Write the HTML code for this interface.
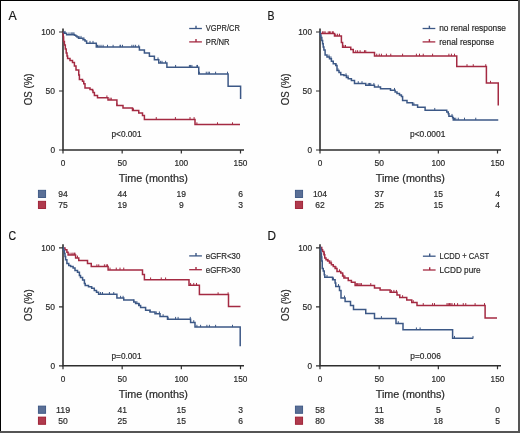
<!DOCTYPE html><html><head><meta charset="utf-8"><style>html,body{margin:0;padding:0;background:#fff;}svg{display:block;will-change:transform;} text{stroke:#2a2a2a;stroke-width:0.2px;}</style></head><body>
<svg width="520" height="433" viewBox="0 0 520 433" font-family='"Liberation Sans", sans-serif'>
<rect x="0" y="0" width="520" height="433" fill="#fefefe"/>
<text x="8.6" y="20.2" font-size="13.2" text-anchor="start" textLength="8.2" lengthAdjust="spacingAndGlyphs" fill="#111" >A</text>
<path d="M63,28.5 V150 H244.0" fill="none" stroke="#2e2e2e" stroke-width="1.6"/>
<path d="M59,150.0 H63 M59,91.0 H63 M59,32.0 H63 M63.0,150 V153.5 M122.16666666666666,150 V153.5 M181.33333333333331,150 V153.5 M240.5,150 V153.5 " fill="none" stroke="#2e2e2e" stroke-width="1.2"/>
<text x="55" y="153.2" font-size="9" text-anchor="end" textLength="4.6" lengthAdjust="spacingAndGlyphs" fill="#2a2a2a" >0</text>
<text x="55" y="94.2" font-size="9" text-anchor="end" textLength="9.4" lengthAdjust="spacingAndGlyphs" fill="#2a2a2a" >50</text>
<text x="55" y="35.2" font-size="9" text-anchor="end" textLength="13.8" lengthAdjust="spacingAndGlyphs" fill="#2a2a2a" >100</text>
<text x="63.0" y="165.8" font-size="9" text-anchor="middle" textLength="4.6" lengthAdjust="spacingAndGlyphs" fill="#2a2a2a" >0</text>
<text x="122.16666666666666" y="165.8" font-size="9" text-anchor="middle" textLength="9.4" lengthAdjust="spacingAndGlyphs" fill="#2a2a2a" >50</text>
<text x="181.33333333333331" y="165.8" font-size="9" text-anchor="middle" textLength="13.8" lengthAdjust="spacingAndGlyphs" fill="#2a2a2a" >100</text>
<text x="240.5" y="165.8" font-size="9" text-anchor="middle" textLength="13.8" lengthAdjust="spacingAndGlyphs" fill="#2a2a2a" >150</text>
<text x="118.7" y="182" font-size="10.6" text-anchor="start" textLength="69.2" lengthAdjust="spacingAndGlyphs" fill="#2a2a2a" >Time (months)</text>
<text transform="translate(31.8,105.2) rotate(-90)" font-size="10.3" textLength="31.7" lengthAdjust="spacingAndGlyphs" fill="#2a2a2a">OS (%)</text>
<path d="M189.2,28.5 H201.89999999999998" stroke="#3c5886" stroke-width="1.3" fill="none"/>
<path d="M196.0,28.5 V25.7" stroke="#3c5886" stroke-width="1.4" fill="none"/>
<text x="205.79999999999998" y="31.4" font-size="9.2" text-anchor="start" textLength="34" lengthAdjust="spacingAndGlyphs" fill="#2a2a2a" >VGPR/CR</text>
<path d="M189.2,41.9 H201.89999999999998" stroke="#a42a42" stroke-width="1.3" fill="none"/>
<path d="M196.0,41.9 V39.1" stroke="#a42a42" stroke-width="1.4" fill="none"/>
<text x="205.79999999999998" y="44.8" font-size="9.2" text-anchor="start" textLength="23.8" lengthAdjust="spacingAndGlyphs" fill="#2a2a2a" >PR/NR</text>
<text x="111.5" y="137.2" font-size="9" text-anchor="start" textLength="30" lengthAdjust="spacingAndGlyphs" fill="#2a2a2a" >p&lt;0.001</text>
<rect x="38.4" y="190.3" width="7.2" height="7.2" fill="#5a6f96" stroke="#3a5582" stroke-width="0.9"/>
<rect x="38.4" y="201.3" width="7.2" height="7.2" fill="#b03a4d" stroke="#9c1c31" stroke-width="0.9"/>
<text x="63.0" y="197" font-size="9.3" text-anchor="middle" textLength="9.5" lengthAdjust="spacingAndGlyphs" fill="#2a2a2a" >94</text>
<text x="63.0" y="208" font-size="9.3" text-anchor="middle" textLength="9.5" lengthAdjust="spacingAndGlyphs" fill="#2a2a2a" >75</text>
<text x="122.16666666666666" y="197" font-size="9.3" text-anchor="middle" textLength="9.5" lengthAdjust="spacingAndGlyphs" fill="#2a2a2a" >44</text>
<text x="122.16666666666666" y="208" font-size="9.3" text-anchor="middle" textLength="9.5" lengthAdjust="spacingAndGlyphs" fill="#2a2a2a" >19</text>
<text x="181.33333333333331" y="197" font-size="9.3" text-anchor="middle" textLength="9.5" lengthAdjust="spacingAndGlyphs" fill="#2a2a2a" >19</text>
<text x="181.33333333333331" y="208" font-size="9.3" text-anchor="middle" textLength="4.75" lengthAdjust="spacingAndGlyphs" fill="#2a2a2a" >9</text>
<text x="240.5" y="197" font-size="9.3" text-anchor="middle" textLength="4.75" lengthAdjust="spacingAndGlyphs" fill="#2a2a2a" >6</text>
<text x="240.5" y="208" font-size="9.3" text-anchor="middle" textLength="4.75" lengthAdjust="spacingAndGlyphs" fill="#2a2a2a" >3</text>
<path d="M63,32 H63.3 V37 H63.6 V41.5 H64.4 V45 H65.3 V49 H66.2 V53 H67 V56 H67.6 V58.5 H70 V60.5 H72.5 V62.5 H74.4 V66 H76 V70 H78.75 V75 H79.4 V79.4 H82.5 V81.25 H83.75 V83.75 H85 V88 H90 V89.4 H92.5 V90.6 H93 V92.5 H94.4 V95.6 H97.5 V97.75 H108 V100 H116.9 V105.6 H123 V108.1 H132.5 V110.6 H138.75 V113.1 H142.5 V115.6 H144.4 V119.4 H195 V124.6 H240" fill="none" stroke="#a42a42" stroke-width="1.5" stroke-linejoin="miter"/>
<path d="M106.9,97.75 V95.45 M110,100 V97.7 M111.25,100 V97.7 M116.9,105.6 V103.3 M133.5,110.6 V108.3 M156.25,119.4 V117.10000000000001 M175.4,119.4 V117.10000000000001 M190,119.4 V117.10000000000001 M194.1,119.4 V117.10000000000001 M196.9,124.6 V122.3 M217.5,124.6 V122.3 M232.5,124.6 V122.3 " fill="none" stroke="#a42a42" stroke-width="1"/>
<path d="M63,32.3 H64.5 V33.2 H66.6 V34.75 H74.5 V35.3 H75.8 V35.9 H77 V37.1 H78.5 V38.2 H83 V39.75 H85 V40.9 H86.6 V43.2 H96.3 V47.1 H139.4 V50 H144.4 V53.1 H149.4 V56.25 H154.4 V59.75 H158.75 V63.1 H166.9 V67.25 H198.75 V74 H228.1 V86.25 H240.6 V99" fill="none" stroke="#3c5886" stroke-width="1.5" stroke-linejoin="miter"/>
<path d="M65,33.2 V30.900000000000002 M69,34.75 V32.45 M71,34.75 V32.45 M72,34.75 V32.45 M73,34.75 V32.45 M74,34.75 V32.45 M79,38.2 V35.900000000000006 M81,38.2 V35.900000000000006 M84,39.75 V37.45 M90,43.2 V40.900000000000006 M93,43.2 V40.900000000000006 M97.5,47.1 V44.800000000000004 M99,47.1 V44.800000000000004 M101,47.1 V44.800000000000004 M103.1,47.1 V44.800000000000004 M107.5,47.1 V44.800000000000004 M113.1,47.1 V44.800000000000004 M120,47.1 V44.800000000000004 M120.6,47.1 V44.800000000000004 M122.5,47.1 V44.800000000000004 M131.9,47.1 V44.800000000000004 M133.75,47.1 V44.800000000000004 M135.6,47.1 V44.800000000000004 M138.75,47.1 V44.800000000000004 M158,59.75 V57.45 M160.6,63.1 V60.800000000000004 M162,63.1 V60.800000000000004 M165.6,63.1 V60.800000000000004 M175.6,67.25 V64.95 M189.4,67.25 V64.95 M190.6,67.25 V64.95 M191.9,67.25 V64.95 M196.9,67.25 V64.95 M197.5,67.25 V64.95 M199.4,74 V71.7 M206.25,74 V71.7 M208.1,74 V71.7 M209.4,74 V71.7 M215.6,74 V71.7 M227.5,74 V71.7 " fill="none" stroke="#3c5886" stroke-width="1"/>
<text x="267.4" y="20.2" font-size="13.2" text-anchor="start" textLength="7.0" lengthAdjust="spacingAndGlyphs" fill="#111" >B</text>
<path d="M320,28.5 V150 H501.0" fill="none" stroke="#2e2e2e" stroke-width="1.6"/>
<path d="M316,150.0 H320 M316,91.0 H320 M316,32.0 H320 M320.0,150 V153.5 M379.1666666666667,150 V153.5 M438.3333333333333,150 V153.5 M497.5,150 V153.5 " fill="none" stroke="#2e2e2e" stroke-width="1.2"/>
<text x="312" y="153.2" font-size="9" text-anchor="end" textLength="4.6" lengthAdjust="spacingAndGlyphs" fill="#2a2a2a" >0</text>
<text x="312" y="94.2" font-size="9" text-anchor="end" textLength="9.4" lengthAdjust="spacingAndGlyphs" fill="#2a2a2a" >50</text>
<text x="312" y="35.2" font-size="9" text-anchor="end" textLength="13.8" lengthAdjust="spacingAndGlyphs" fill="#2a2a2a" >100</text>
<text x="320.0" y="165.8" font-size="9" text-anchor="middle" textLength="4.6" lengthAdjust="spacingAndGlyphs" fill="#2a2a2a" >0</text>
<text x="379.1666666666667" y="165.8" font-size="9" text-anchor="middle" textLength="9.4" lengthAdjust="spacingAndGlyphs" fill="#2a2a2a" >50</text>
<text x="438.3333333333333" y="165.8" font-size="9" text-anchor="middle" textLength="13.8" lengthAdjust="spacingAndGlyphs" fill="#2a2a2a" >100</text>
<text x="497.5" y="165.8" font-size="9" text-anchor="middle" textLength="13.8" lengthAdjust="spacingAndGlyphs" fill="#2a2a2a" >150</text>
<text x="375.7" y="182" font-size="10.6" text-anchor="start" textLength="69.2" lengthAdjust="spacingAndGlyphs" fill="#2a2a2a" >Time (months)</text>
<text transform="translate(288.8,105.2) rotate(-90)" font-size="10.3" textLength="31.7" lengthAdjust="spacingAndGlyphs" fill="#2a2a2a">OS (%)</text>
<path d="M422.6,28.5 H435.3" stroke="#3c5886" stroke-width="1.3" fill="none"/>
<path d="M429.40000000000003,28.5 V25.7" stroke="#3c5886" stroke-width="1.4" fill="none"/>
<text x="439.20000000000005" y="31.4" font-size="9.2" text-anchor="start" textLength="66.8" lengthAdjust="spacingAndGlyphs" fill="#2a2a2a" >no renal response</text>
<path d="M422.6,41.9 H435.3" stroke="#a42a42" stroke-width="1.3" fill="none"/>
<path d="M429.40000000000003,41.9 V39.1" stroke="#a42a42" stroke-width="1.4" fill="none"/>
<text x="439.20000000000005" y="44.8" font-size="9.2" text-anchor="start" textLength="54.9" lengthAdjust="spacingAndGlyphs" fill="#2a2a2a" >renal response</text>
<text x="410" y="137.2" font-size="9" text-anchor="start" textLength="35.4" lengthAdjust="spacingAndGlyphs" fill="#2a2a2a" >p&lt;0.0001</text>
<rect x="295.4" y="190.3" width="7.2" height="7.2" fill="#5a6f96" stroke="#3a5582" stroke-width="0.9"/>
<rect x="295.4" y="201.3" width="7.2" height="7.2" fill="#b03a4d" stroke="#9c1c31" stroke-width="0.9"/>
<text x="320.0" y="197" font-size="9.3" text-anchor="middle" textLength="14.25" lengthAdjust="spacingAndGlyphs" fill="#2a2a2a" >104</text>
<text x="320.0" y="208" font-size="9.3" text-anchor="middle" textLength="9.5" lengthAdjust="spacingAndGlyphs" fill="#2a2a2a" >62</text>
<text x="379.1666666666667" y="197" font-size="9.3" text-anchor="middle" textLength="9.5" lengthAdjust="spacingAndGlyphs" fill="#2a2a2a" >37</text>
<text x="379.1666666666667" y="208" font-size="9.3" text-anchor="middle" textLength="9.5" lengthAdjust="spacingAndGlyphs" fill="#2a2a2a" >25</text>
<text x="438.3333333333333" y="197" font-size="9.3" text-anchor="middle" textLength="9.5" lengthAdjust="spacingAndGlyphs" fill="#2a2a2a" >15</text>
<text x="438.3333333333333" y="208" font-size="9.3" text-anchor="middle" textLength="9.5" lengthAdjust="spacingAndGlyphs" fill="#2a2a2a" >15</text>
<text x="497.5" y="197" font-size="9.3" text-anchor="middle" textLength="4.75" lengthAdjust="spacingAndGlyphs" fill="#2a2a2a" >4</text>
<text x="497.5" y="208" font-size="9.3" text-anchor="middle" textLength="4.75" lengthAdjust="spacingAndGlyphs" fill="#2a2a2a" >4</text>
<path d="M320,33.6 H334.5 V36 H341.4 V42.5 H342.6 V47.25 H350.75 V49.4 H353.25 V52.5 H374.5 V56 H456.75 V66.5 H486.4 V83.1 H498.25 V105.6" fill="none" stroke="#a42a42" stroke-width="1.5" stroke-linejoin="miter"/>
<path d="M322.6,33.6 V31.3 M323.9,33.6 V31.3 M325.1,33.6 V31.3 M328.25,33.6 V31.3 M329.5,33.6 V31.3 M330.75,33.6 V31.3 M332.6,33.6 V31.3 M333.25,33.6 V31.3 M335.75,36 V33.7 M337.6,36 V33.7 M339.5,36 V33.7 M343.9,47.25 V44.95 M345.5,47.25 V44.95 M355.75,52.5 V50.2 M357.6,52.5 V50.2 M360.1,52.5 V50.2 M364.5,52.5 V50.2 M365.75,52.5 V50.2 M376.75,56 V53.7 M379.25,56 V53.7 M381.4,56 V53.7 M386.4,56 V53.7 M390.75,56 V53.7 M402.6,56 V53.7 M416.4,56 V53.7 M419.5,56 V53.7 M423.25,56 V53.7 M432.6,56 V53.7 M448.9,56 V53.7 M451.4,56 V53.7 M454.5,56 V53.7 M467,66.5 V64.2 M473.25,66.5 V64.2 M485.75,66.5 V64.2 M490.5,83.1 V80.8 " fill="none" stroke="#a42a42" stroke-width="1"/>
<path d="M320,32 H320.3 V35 H321 V37.5 H321.8 V40.5 H322.6 V43.75 H323.2 V47 H323.9 V50 H325.1 V55 H327 V56.9 H329.5 V58.75 H331.4 V61.25 H333.25 V63.75 H335.75 V65.6 H337 V70.6 H339 V72.5 H340.75 V74.75 H343.9 V75.6 H346.4 V77.5 H348.25 V78.75 H351.4 V80.6 H354.5 V83.5 H365.75 V85.25 H374.5 V86.9 H380.5 V88.75 H390.5 V90.25 H395.1 V91.9 H397 V93.5 H399.5 V95 H401.4 V96.5 H402.6 V100.6 H407 V102.75 H412.6 V105 H417.6 V107.25 H425.1 V110.25 H446.75 V111.9 H448.25 V113.75 H448.9 V116.25 H452.6 V117.75 H453.25 V120 H498.25" fill="none" stroke="#3c5886" stroke-width="1.5" stroke-linejoin="miter"/>
<path d="M329,56.9 V54.6 M331,58.75 V56.45 M336,65.6 V63.3 M338,70.6 V68.3 M346,75.6 V73.3 M348,77.5 V75.2 M358.25,83.5 V81.2 M362,83.5 V81.2 M368.25,85.25 V82.95 M369.5,85.25 V82.95 M370.75,85.25 V82.95 M373.9,85.25 V82.95 M378.25,86.9 V84.60000000000001 M394.5,90.25 V87.95 M413.9,105 V102.7 M434.75,110.25 V107.95 M452,116.25 V113.95 M454.5,120 V117.7 M455.75,120 V117.7 M458.25,120 V117.7 M464.5,120 V117.7 M475.75,120 V117.7 " fill="none" stroke="#3c5886" stroke-width="1"/>
<text x="8.6" y="239.7" font-size="13.2" text-anchor="start" textLength="7.6" lengthAdjust="spacingAndGlyphs" fill="#111" >C</text>
<path d="M63,244.3 V365.8 H244.0" fill="none" stroke="#2e2e2e" stroke-width="1.6"/>
<path d="M59,365.8 H63 M59,306.8 H63 M59,247.8 H63 M63.0,365.8 V369.3 M122.16666666666666,365.8 V369.3 M181.33333333333331,365.8 V369.3 M240.5,365.8 V369.3 " fill="none" stroke="#2e2e2e" stroke-width="1.2"/>
<text x="55" y="369.0" font-size="9" text-anchor="end" textLength="4.6" lengthAdjust="spacingAndGlyphs" fill="#2a2a2a" >0</text>
<text x="55" y="310.0" font-size="9" text-anchor="end" textLength="9.4" lengthAdjust="spacingAndGlyphs" fill="#2a2a2a" >50</text>
<text x="55" y="251.0" font-size="9" text-anchor="end" textLength="13.8" lengthAdjust="spacingAndGlyphs" fill="#2a2a2a" >100</text>
<text x="63.0" y="381.6" font-size="9" text-anchor="middle" textLength="4.6" lengthAdjust="spacingAndGlyphs" fill="#2a2a2a" >0</text>
<text x="122.16666666666666" y="381.6" font-size="9" text-anchor="middle" textLength="9.4" lengthAdjust="spacingAndGlyphs" fill="#2a2a2a" >50</text>
<text x="181.33333333333331" y="381.6" font-size="9" text-anchor="middle" textLength="13.8" lengthAdjust="spacingAndGlyphs" fill="#2a2a2a" >100</text>
<text x="240.5" y="381.6" font-size="9" text-anchor="middle" textLength="13.8" lengthAdjust="spacingAndGlyphs" fill="#2a2a2a" >150</text>
<text x="118.7" y="397.8" font-size="10.6" text-anchor="start" textLength="69.2" lengthAdjust="spacingAndGlyphs" fill="#2a2a2a" >Time (months)</text>
<text transform="translate(31.8,321.0) rotate(-90)" font-size="10.3" textLength="31.7" lengthAdjust="spacingAndGlyphs" fill="#2a2a2a">OS (%)</text>
<path d="M189.2,255.9 H201.89999999999998" stroke="#3c5886" stroke-width="1.3" fill="none"/>
<path d="M196.0,255.9 V253.1" stroke="#3c5886" stroke-width="1.4" fill="none"/>
<text x="205.79999999999998" y="258.8" font-size="9.2" text-anchor="start" textLength="34.6" lengthAdjust="spacingAndGlyphs" fill="#2a2a2a" >eGFR&lt;30</text>
<path d="M189.2,269.7 H201.89999999999998" stroke="#a42a42" stroke-width="1.3" fill="none"/>
<path d="M196.0,269.7 V266.9" stroke="#a42a42" stroke-width="1.4" fill="none"/>
<text x="205.79999999999998" y="272.59999999999997" font-size="9.2" text-anchor="start" textLength="34.6" lengthAdjust="spacingAndGlyphs" fill="#2a2a2a" >eGFR&gt;30</text>
<text x="111.5" y="358.8" font-size="9" text-anchor="start" textLength="30" lengthAdjust="spacingAndGlyphs" fill="#2a2a2a" >p=0.001</text>
<rect x="38.4" y="406.1" width="7.2" height="7.2" fill="#5a6f96" stroke="#3a5582" stroke-width="0.9"/>
<rect x="38.4" y="417.1" width="7.2" height="7.2" fill="#b03a4d" stroke="#9c1c31" stroke-width="0.9"/>
<text x="63.0" y="412.8" font-size="9.3" text-anchor="middle" textLength="14.25" lengthAdjust="spacingAndGlyphs" fill="#2a2a2a" >119</text>
<text x="63.0" y="423.8" font-size="9.3" text-anchor="middle" textLength="9.5" lengthAdjust="spacingAndGlyphs" fill="#2a2a2a" >50</text>
<text x="122.16666666666666" y="412.8" font-size="9.3" text-anchor="middle" textLength="9.5" lengthAdjust="spacingAndGlyphs" fill="#2a2a2a" >41</text>
<text x="122.16666666666666" y="423.8" font-size="9.3" text-anchor="middle" textLength="9.5" lengthAdjust="spacingAndGlyphs" fill="#2a2a2a" >25</text>
<text x="181.33333333333331" y="412.8" font-size="9.3" text-anchor="middle" textLength="9.5" lengthAdjust="spacingAndGlyphs" fill="#2a2a2a" >15</text>
<text x="181.33333333333331" y="423.8" font-size="9.3" text-anchor="middle" textLength="9.5" lengthAdjust="spacingAndGlyphs" fill="#2a2a2a" >15</text>
<text x="240.5" y="412.8" font-size="9.3" text-anchor="middle" textLength="4.75" lengthAdjust="spacingAndGlyphs" fill="#2a2a2a" >3</text>
<text x="240.5" y="423.8" font-size="9.3" text-anchor="middle" textLength="4.75" lengthAdjust="spacingAndGlyphs" fill="#2a2a2a" >6</text>
<path d="M63,248 H65 V249.75 H66.9 V252.25 H68.1 V255 H75.6 V257.9 H78.75 V260.4 H87.5 V263.5 H91.25 V266.6 H108.1 V269.9 H142.5 V274.4 H144.4 V279.75 H189 V285.25 H199.4 V294.6 H228.5 V306.4 H240.5" fill="none" stroke="#a42a42" stroke-width="1.5" stroke-linejoin="miter"/>
<path d="M70,255 V252.7 M71.9,255 V252.7 M73.1,255 V252.7 M74.4,255 V252.7 M75,255 V252.7 M77.5,257.9 V255.59999999999997 M96.9,266.6 V264.3 M98.75,266.6 V264.3 M104.4,266.6 V264.3 M106.25,266.6 V264.3 M107.5,266.6 V264.3 M110,269.9 V267.59999999999997 M116.25,269.9 V267.59999999999997 M120,269.9 V267.59999999999997 M123.75,269.9 V267.59999999999997 M150.6,279.75 V277.45 M161.25,279.75 V277.45 M165.6,279.75 V277.45 M190.6,285.25 V282.95 M193.75,285.25 V282.95 M196.5,285.25 V282.95 M218.1,294.6 V292.3 M228.1,294.6 V292.3 " fill="none" stroke="#a42a42" stroke-width="1"/>
<path d="M63,247.8 H63.5 V250.5 H64.4 V253.5 H65 V256.5 H65.6 V259.75 H66.9 V263.5 H68.75 V265.4 H70.6 V266.6 H73.1 V267.9 H75 V270.4 H77.5 V272.25 H79.4 V275.4 H80.5 V277.6 H82.6 V280 H84.4 V283.5 H85.2 V285.4 H88.5 V286.8 H91.7 V288.2 H94.3 V290.6 H96.5 V292.3 H98.6 V294.3 H116.9 V298.1 H123.75 V300 H133.75 V301.9 H135.6 V303.5 H138.75 V305.6 H140.6 V307.5 H145.6 V310.25 H150 V311.9 H155 V313.75 H160 V316.5 H167.5 V319.2 H190.6 V322.5 H195 V327.1 H240.2 V346.25" fill="none" stroke="#3c5886" stroke-width="1.5" stroke-linejoin="miter"/>
<path d="M100.6,294.3 V292.0 M102.5,294.3 V292.0 M109.4,294.3 V292.0 M113.75,294.3 V292.0 M120.6,298.1 V295.8 M123.1,298.1 V295.8 M133.75,301.9 V299.59999999999997 M136.9,303.5 V301.2 M139.4,305.6 V303.3 M150,311.9 V309.59999999999997 M156.25,313.75 V311.45 M159.4,313.75 V311.45 M163.1,316.5 V314.2 M168.1,319.2 V316.9 M175.6,319.2 V316.9 M178.1,319.2 V316.9 M190.25,319.2 V316.9 M193.75,322.5 V320.2 M196.9,327.1 V324.8 M200.6,327.1 V324.8 M206.9,327.1 V324.8 M209.4,327.1 V324.8 M215.6,327.1 V324.8 M232.5,327.1 V324.8 " fill="none" stroke="#3c5886" stroke-width="1"/>
<text x="267.4" y="239.7" font-size="13.2" text-anchor="start" textLength="8.5" lengthAdjust="spacingAndGlyphs" fill="#111" >D</text>
<path d="M320,244.3 V365.8 H501.0" fill="none" stroke="#2e2e2e" stroke-width="1.6"/>
<path d="M316,365.8 H320 M316,306.8 H320 M316,247.8 H320 M320.0,365.8 V369.3 M379.1666666666667,365.8 V369.3 M438.3333333333333,365.8 V369.3 M497.5,365.8 V369.3 " fill="none" stroke="#2e2e2e" stroke-width="1.2"/>
<text x="312" y="369.0" font-size="9" text-anchor="end" textLength="4.6" lengthAdjust="spacingAndGlyphs" fill="#2a2a2a" >0</text>
<text x="312" y="310.0" font-size="9" text-anchor="end" textLength="9.4" lengthAdjust="spacingAndGlyphs" fill="#2a2a2a" >50</text>
<text x="312" y="251.0" font-size="9" text-anchor="end" textLength="13.8" lengthAdjust="spacingAndGlyphs" fill="#2a2a2a" >100</text>
<text x="320.0" y="381.6" font-size="9" text-anchor="middle" textLength="4.6" lengthAdjust="spacingAndGlyphs" fill="#2a2a2a" >0</text>
<text x="379.1666666666667" y="381.6" font-size="9" text-anchor="middle" textLength="9.4" lengthAdjust="spacingAndGlyphs" fill="#2a2a2a" >50</text>
<text x="438.3333333333333" y="381.6" font-size="9" text-anchor="middle" textLength="13.8" lengthAdjust="spacingAndGlyphs" fill="#2a2a2a" >100</text>
<text x="497.5" y="381.6" font-size="9" text-anchor="middle" textLength="13.8" lengthAdjust="spacingAndGlyphs" fill="#2a2a2a" >150</text>
<text x="375.7" y="397.8" font-size="10.6" text-anchor="start" textLength="69.2" lengthAdjust="spacingAndGlyphs" fill="#2a2a2a" >Time (months)</text>
<text transform="translate(288.8,321.0) rotate(-90)" font-size="10.3" textLength="31.7" lengthAdjust="spacingAndGlyphs" fill="#2a2a2a">OS (%)</text>
<path d="M422.9,256.2 H435.59999999999997" stroke="#3c5886" stroke-width="1.3" fill="none"/>
<path d="M429.7,256.2 V253.39999999999998" stroke="#3c5886" stroke-width="1.4" fill="none"/>
<text x="439.5" y="259.09999999999997" font-size="9.2" text-anchor="start" textLength="49.6" lengthAdjust="spacingAndGlyphs" fill="#2a2a2a" >LCDD + CAST</text>
<path d="M422.9,270.0 H435.59999999999997" stroke="#a42a42" stroke-width="1.3" fill="none"/>
<path d="M429.7,270.0 V267.2" stroke="#a42a42" stroke-width="1.4" fill="none"/>
<text x="439.5" y="272.9" font-size="9.2" text-anchor="start" textLength="41" lengthAdjust="spacingAndGlyphs" fill="#2a2a2a" >LCDD pure</text>
<text x="410.3" y="358.8" font-size="9" text-anchor="start" textLength="30.5" lengthAdjust="spacingAndGlyphs" fill="#2a2a2a" >p=0.006</text>
<rect x="295.4" y="406.1" width="7.2" height="7.2" fill="#5a6f96" stroke="#3a5582" stroke-width="0.9"/>
<rect x="295.4" y="417.1" width="7.2" height="7.2" fill="#b03a4d" stroke="#9c1c31" stroke-width="0.9"/>
<text x="320.0" y="412.8" font-size="9.3" text-anchor="middle" textLength="9.5" lengthAdjust="spacingAndGlyphs" fill="#2a2a2a" >58</text>
<text x="320.0" y="423.8" font-size="9.3" text-anchor="middle" textLength="9.5" lengthAdjust="spacingAndGlyphs" fill="#2a2a2a" >80</text>
<text x="379.1666666666667" y="412.8" font-size="9.3" text-anchor="middle" textLength="9.5" lengthAdjust="spacingAndGlyphs" fill="#2a2a2a" >11</text>
<text x="379.1666666666667" y="423.8" font-size="9.3" text-anchor="middle" textLength="9.5" lengthAdjust="spacingAndGlyphs" fill="#2a2a2a" >38</text>
<text x="438.3333333333333" y="412.8" font-size="9.3" text-anchor="middle" textLength="4.75" lengthAdjust="spacingAndGlyphs" fill="#2a2a2a" >5</text>
<text x="438.3333333333333" y="423.8" font-size="9.3" text-anchor="middle" textLength="9.5" lengthAdjust="spacingAndGlyphs" fill="#2a2a2a" >18</text>
<text x="497.5" y="412.8" font-size="9.3" text-anchor="middle" textLength="4.75" lengthAdjust="spacingAndGlyphs" fill="#2a2a2a" >0</text>
<text x="497.5" y="423.8" font-size="9.3" text-anchor="middle" textLength="4.75" lengthAdjust="spacingAndGlyphs" fill="#2a2a2a" >5</text>
<path d="M320,247.5 H321.75 V249.75 H322.6 V251.6 H323.9 V254.75 H324.75 V257.9 H326 V259.75 H327.6 V261 H329.5 V262.9 H331.4 V264.75 H333.25 V266.6 H335.1 V268.5 H337 V271.6 H340.75 V272.9 H342.6 V276 H343.9 V277.9 H348.25 V280.4 H351.4 V282.25 H355.1 V285.4 H374.5 V288.1 H380.1 V290 H390.1 V292.25 H397 V295 H399.75 V297.5 H406.75 V300 H411.75 V302.5 H417 V305.4 H485.1 V317.9 H497" fill="none" stroke="#a42a42" stroke-width="1.5" stroke-linejoin="miter"/>
<path d="M324.5,254.75 V252.45 M328,261 V258.7 M331,262.9 V260.59999999999997 M333.5,266.6 V264.3 M336,268.5 V266.2 M339.5,271.6 V269.3 M343,276 V273.7 M345,277.9 V275.59999999999997 M356.4,285.4 V283.09999999999997 M357.6,285.4 V283.09999999999997 M358.9,285.4 V283.09999999999997 M360.1,285.4 V283.09999999999997 M361.4,285.4 V283.09999999999997 M370.75,285.4 V283.09999999999997 M391.4,292.25 V289.95 M393.9,292.25 V289.95 M396.4,292.25 V289.95 M402.6,297.5 V295.2 M413.25,302.5 V300.2 M423.25,305.4 V303.09999999999997 M432.6,305.4 V303.09999999999997 M434.5,305.4 V303.09999999999997 M447,305.4 V303.09999999999997 M448.25,305.4 V303.09999999999997 M449.5,305.4 V303.09999999999997 M450.75,305.4 V303.09999999999997 M452,305.4 V303.09999999999997 M454.5,305.4 V303.09999999999997 M457.6,305.4 V303.09999999999997 M463.25,305.4 V303.09999999999997 M465.75,305.4 V303.09999999999997 M475.1,305.4 V303.09999999999997 M484.5,305.4 V303.09999999999997 " fill="none" stroke="#a42a42" stroke-width="1"/>
<path d="M320,247.5 H320.5 V250 H321 V253.5 H321.4 V257 H321.8 V261 H322.25 V268.5 H323.25 V271 H324.25 V274.75 H324.75 V277.25 H332.6 V279.75 H335.1 V282.9 H335.75 V286.4 H339.5 V290.4 H341 V297.9 H345.1 V301.6 H350.5 V305.4 H353.5 V309.5 H365.75 V313.5 H374.5 V318.4 H396 V323.5 H403 V329.75 H452.6 V338.25 H473.25" fill="none" stroke="#3c5886" stroke-width="1.5" stroke-linejoin="miter"/>
<path d="M327,277.25 V274.95 M333.5,279.75 V277.45 M338.5,286.4 V284.09999999999997 M344.5,297.9 V295.59999999999997 M381.4,318.4 V316.09999999999997 M398.25,323.5 V321.2 M416.4,329.75 V327.45 M420.1,329.75 V327.45 M454.5,338.25 V335.95 M473,338.25 V335.95 " fill="none" stroke="#3c5886" stroke-width="1"/>
<path d="M0,0.5 H520 M0.5,0 V433" stroke="#000" stroke-width="1"/>
<path d="M519,0 V433 M0,432 H520" stroke="#555" stroke-width="2"/>
</svg></body></html>
